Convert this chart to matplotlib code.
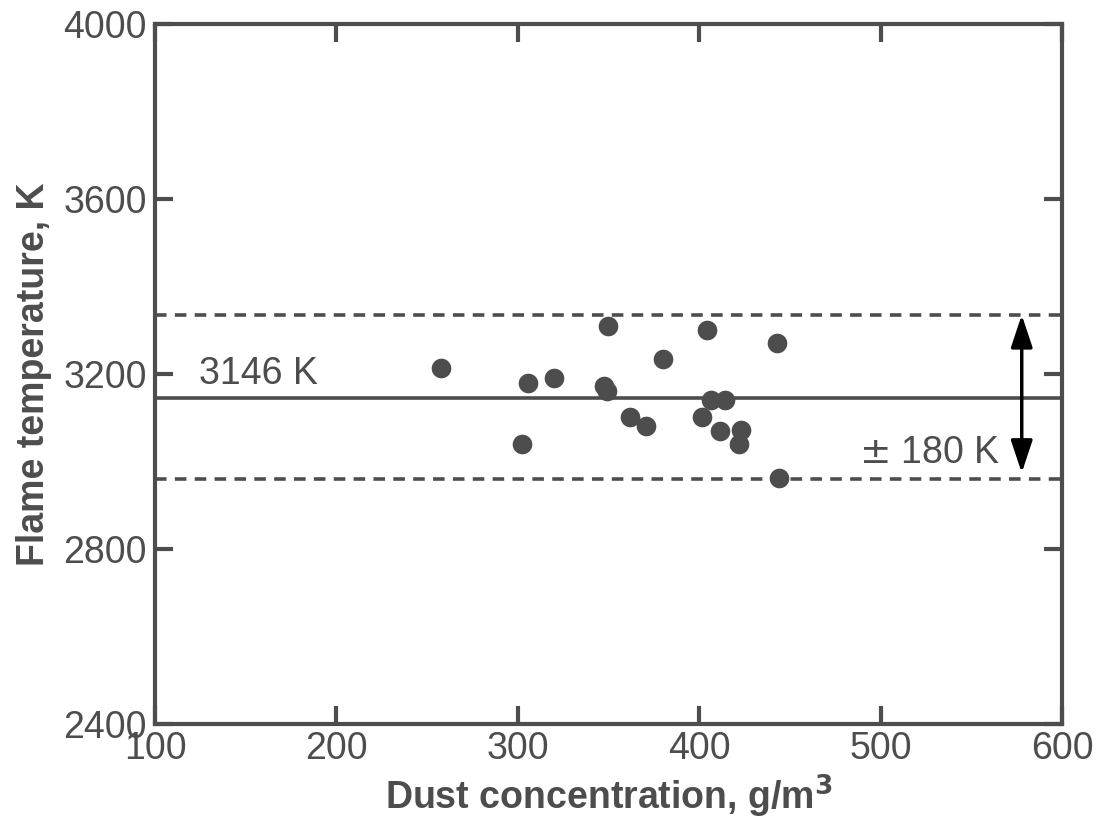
import matplotlib
matplotlib.use("Agg")
import matplotlib.pyplot as plt

# Data
dust_conc = [257.8, 305.8, 320.0, 302.3, 349.6, 347.5, 349.3, 361.9, 370.8, 380.2,
             404.5, 406.3, 414.2, 401.7, 411.5, 423.0, 422.1, 442.9, 444.2]
flame_temp = [3214, 3180, 3191, 3041, 3310, 3173, 3160, 3101, 3080, 3234,
              3301, 3141, 3141, 3101, 3070, 3071, 3041, 3271, 2962]
mean_temp = 3146
upper_band = 3335
lower_band = 2959
x_ticks = [100, 200, 300, 400, 500, 600]
y_ticks = [2400, 2800, 3200, 3600, 4000]

grey = '#4d4d4d'
plt.rcParams['font.family'] = ['Liberation Sans', 'DejaVu Sans']

fig = plt.figure(figsize=(10.97, 8.26), dpi=100)
ax = fig.add_axes([0.1413, 0.1235, 0.8268, 0.8475])

ax.scatter(dust_conc, flame_temp, s=200, color=grey, zorder=3, linewidths=0)
ax.axhline(mean_temp, color=grey, lw=2.6, zorder=2)
ax.axhline(upper_band, color=grey, lw=2.6, ls=(0, (3.2, 2.3)), zorder=2)
ax.axhline(lower_band, color=grey, lw=2.6, ls=(0, (3.2, 2.3)), zorder=2)

ax.annotate('', xy=(577.8, upper_band), xytext=(577.8, 2974),
            arrowprops=dict(arrowstyle='<|-|>,head_length=0.9,head_width=0.3',
                            color='black', lw=2.5, mutation_scale=22,
                            shrinkA=0, shrinkB=0), zorder=4)

ax.text(124, 3200, '3146 K', fontsize=27, color=grey, ha='left', va='center')
ax.text(488, 3020, '$\\pm$ 180 K', fontsize=27, color=grey, ha='left', va='center')

ax.set_xlim(100, 600)
ax.set_ylim(2400, 4000)
ax.set_xticks(x_ticks)
ax.set_yticks(y_ticks)
ax.tick_params(direction='in', length=13, width=3, colors=grey, labelsize=27,
               top=True, right=True, pad=6)
ax.tick_params(axis='x', pad=5)
for sp in ax.spines.values():
    sp.set_linewidth(3)
    sp.set_color(grey)

ax.set_xlabel('Dust concentration, g/m$^\\mathbf{3}$', fontsize=27, fontweight='bold',
              color=grey, labelpad=4)
ax.set_ylabel('Flame temperature, K', fontsize=27, fontweight='bold', color=grey,
              labelpad=8)

fig.savefig('out.png', dpi=100)
